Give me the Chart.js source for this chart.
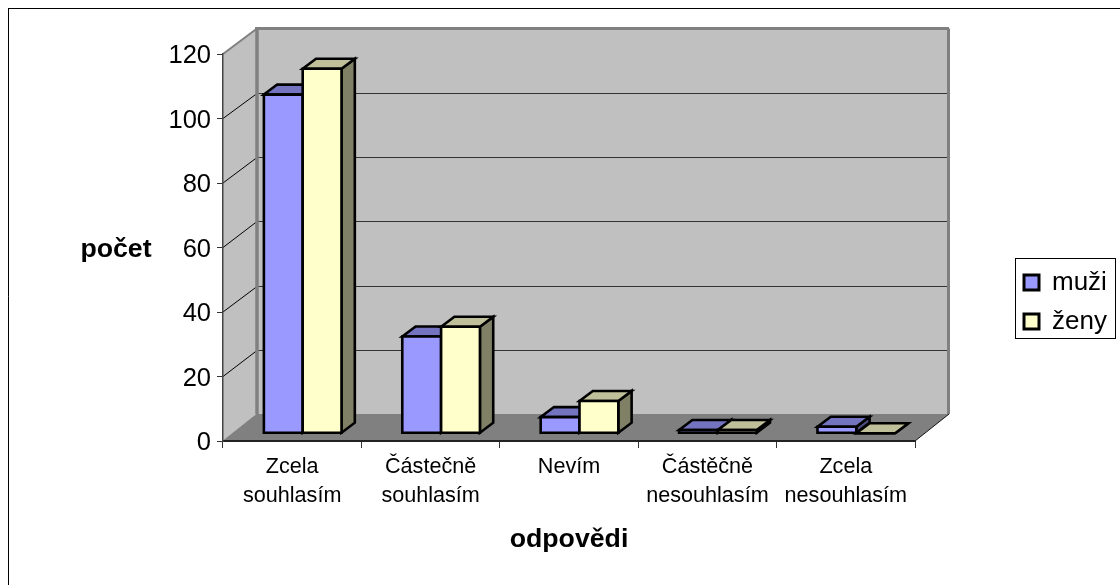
<!DOCTYPE html>
<html>
<head>
<meta charset="utf-8">
<script src="https://cdn.jsdelivr.net/npm/chart.js@4"></script>
<style>
    html, body { margin: 0; padding: 0; background: #fff; }
    #wrap { width: 1120px; height: 585px; }
</style>
</head>
<body>
<div id="wrap"><canvas id="chart"></canvas></div>
<script>
const categories = [['Zcela', 'souhlasím'], ['Částečně', 'souhlasím'], 'Nevím', ['Částěčně', 'nesouhlasím'], ['Zcela', 'nesouhlasím']]
const seriesNames = ['muži', 'ženy']
const muziValues = [105, 30, 5, 1, 2]
const zenyValues = [113, 33, 10, 1, 0]
const xTitle = 'odpovědi'
const yTitle = 'počet'

const FONT = '"Liberation Sans", Arial, sans-serif'
// back wall offset from the front plane, bar offset and bar depth
const WALL_DX = 34, WALL_DY_TOP = 25.5, WALL_DY_BOTTOM = 27
const BAR_SHIFT_X = 10.5, BAR_SHIFT_Y = 7.8
const BAR_DX = 13.3, BAR_DY = 10
const LEGEND_BOX = { left: 1015, top: 258, width: 100, height: 80 }
// top and side faces per series
const faceColors = [
    { top: '#7373BF', side: '#4D4D80' },
    { top: '#BFBF99', side: '#808066' }
]

function polygon(ctx, points, fill) {
    ctx.beginPath()
    points.forEach(([x, y], i) => i ? ctx.lineTo(x, y) : ctx.moveTo(x, y))
    ctx.closePath()
    if (fill) {
        ctx.fillStyle = fill
        ctx.fill()
    }
}

function line(ctx, x1, y1, x2, y2, color, width) {
    ctx.beginPath()
    ctx.moveTo(x1, y1)
    ctx.lineTo(x2, y2)
    ctx.strokeStyle = color
    ctx.lineWidth = width
    ctx.stroke()
}

const box3d = {
    id: 'box3d',
    afterLayout(chart) {
        // legend sits right of the box, not in the layout flow
        const legend = chart.legend
        const w = legend.width, h = legend.height
        legend.left = LEGEND_BOX.left - 4
        legend.right = legend.left + w
        legend.top = LEGEND_BOX.top - 1.6
        legend.bottom = legend.top + h
    },
    beforeDraw(chart) {
        const { ctx, chartArea: a, scales } = chart
        const y = scales.y
        ctx.save()
        ctx.fillStyle = '#fff'
        ctx.fillRect(0, 0, chart.width, chart.height)
        // outer frame, only top and left show in the picture
        line(ctx, 8.5, 585, 8.5, 8.5, '#000', 1)
        line(ctx, 8, 8.5, 1120, 8.5, '#000', 1)

        const bx0 = a.left + WALL_DX, bx1 = a.right + WALL_DX
        const by0 = a.top - WALL_DY_TOP, by1 = a.bottom - WALL_DY_BOTTOM
        polygon(ctx, [[bx0, by0], [bx1, by0], [bx1, by1], [bx0, by1]], '#C0C0C0')
        polygon(ctx, [[a.left, a.top], [bx0, by0], [bx0, by1], [a.left, a.bottom]], '#C0C0C0')
        polygon(ctx, [[a.left, a.bottom], [bx0, by1], [bx1, by1], [a.right, a.bottom]], '#808080')

        y.ticks.forEach(t => {
            if (t.value === y.max || t.value === 0) return
            const py = y.getPixelForValue(t.value)
            const backY = Math.round(by0 + (py - a.top) * (by1 - by0) / (a.bottom - a.top)) + 0.5
            line(ctx, a.left, py, bx0, backY, '#000', 1)
            line(ctx, bx0, backY, bx1, backY, '#333', 1)
        })
        line(ctx, a.left, a.top, bx0, by0, '#808080', 2)
        line(ctx, bx0 - 2, by0, bx1, by0, '#808080', 3)
        line(ctx, bx0, by0, bx0, by1, '#808080', 3.5)
        line(ctx, bx1 - 0.5, by0, bx1 - 0.5, by1, '#808080', 3)
        line(ctx, a.left, a.bottom, bx0, by1, '#808080', 1)
        line(ctx, a.right, a.bottom, bx1, by1, '#111', 1)
        ctx.restore()
    },
    beforeDatasetsDraw(chart) {
        const ctx = chart.ctx
        const metas = [chart.getDatasetMeta(0), chart.getDatasetMeta(1)]
        ctx.save()
        ctx.lineWidth = 2.6
        ctx.strokeStyle = '#000'
        ctx.lineJoin = 'miter'
        categories.forEach((c, i) => {
            metas.forEach((meta, s) => {
                const el = meta.data[i]
                const x0 = el.x - el.width / 2 + BAR_SHIFT_X
                const x1 = el.x + el.width / 2 + BAR_SHIFT_X
                const yt = el.y - BAR_SHIFT_Y
                const yb = el.base - BAR_SHIFT_Y
                polygon(ctx, [[x1, yb], [x1 + BAR_DX, yb - BAR_DY], [x1 + BAR_DX, yt - BAR_DY], [x1, yt]], faceColors[s].side)
                ctx.stroke()
                polygon(ctx, [[x0, yt], [x0 + BAR_DX, yt - BAR_DY], [x1 + BAR_DX, yt - BAR_DY], [x1, yt]], faceColors[s].top)
                ctx.stroke()
                polygon(ctx, [[x0, yb], [x0, yt], [x1, yt], [x1, yb]], el.options.backgroundColor)
                ctx.stroke()
            })
        })
        ctx.restore()
    },
    beforeDatasetDraw() {
        // bars are painted above, category by category
        return false
    },
    afterDraw(chart) {
        const ctx = chart.ctx
        ctx.save()
        ctx.strokeStyle = '#000'
        ctx.lineWidth = 1
        ctx.strokeRect(LEGEND_BOX.left + 0.5, LEGEND_BOX.top + 0.5, LEGEND_BOX.width, LEGEND_BOX.height)
        // the library only rotates a y axis title, this one stays level
        ctx.fillStyle = '#000'
        ctx.font = `bold 26.7px ${FONT}`
        ctx.textAlign = 'center'
        ctx.textBaseline = 'middle'
        ctx.fillText(yTitle, 116, 250)
        ctx.restore()
    }
}

new Chart(document.getElementById('chart'), {
    type: 'bar',
    data: {
        labels: categories,
        datasets: [
            { label: seriesNames[0], data: muziValues, backgroundColor: '#9999FF', borderColor: '#000', borderWidth: 3 },
            { label: seriesNames[1], data: zenyValues, backgroundColor: '#FFFFCC', borderColor: '#000', borderWidth: 3 }
        ]
    },
    options: {
        responsive: true,
        maintainAspectRatio: false,
        animation: false,
        layout: { padding: { left: 0, top: 54, right: 205, bottom: 0 } },
        datasets: { bar: { categoryPercentage: 0.561, barPercentage: 1 } },
        plugins: {
            tooltip: { enabled: false },
            legend: {
                position: 'chartArea',
                align: 'start',
                labels: {
                    boxWidth: 15,
                    boxHeight: 15,
                    padding: 13,
                    color: '#000',
                    font: { family: FONT, size: 26 }
                }
            }
        },
        scales: {
            x: {
                grid: { drawOnChartArea: false, tickLength: 7, color: '#333' },
                border: { color: '#222', width: 2 },
                ticks: { color: '#000', padding: 5, maxRotation: 0, autoSkip: false, font: { family: FONT, size: 21.6, lineHeight: 1.33 } },
                title: {
                    display: true,
                    text: xTitle,
                    color: '#000',
                    font: { family: FONT, size: 26.7, weight: 'bold' },
                    padding: { top: 0, bottom: 29 }
                },
                afterFit(scale) { scale.height = 144 }
            },
            y: {
                min: 0,
                max: 120,
                grid: { drawOnChartArea: false, tickLength: 6, color: '#333' },
                border: { color: '#444', width: 1.5 },
                ticks: { stepSize: 20, color: '#000', padding: 6, labelOffset: 2, font: { family: FONT, size: 25.5 } },
                afterFit(scale) { scale.width = 223 }
            }
        }
    },
    plugins: [box3d]
})
</script>
</body>
</html>
